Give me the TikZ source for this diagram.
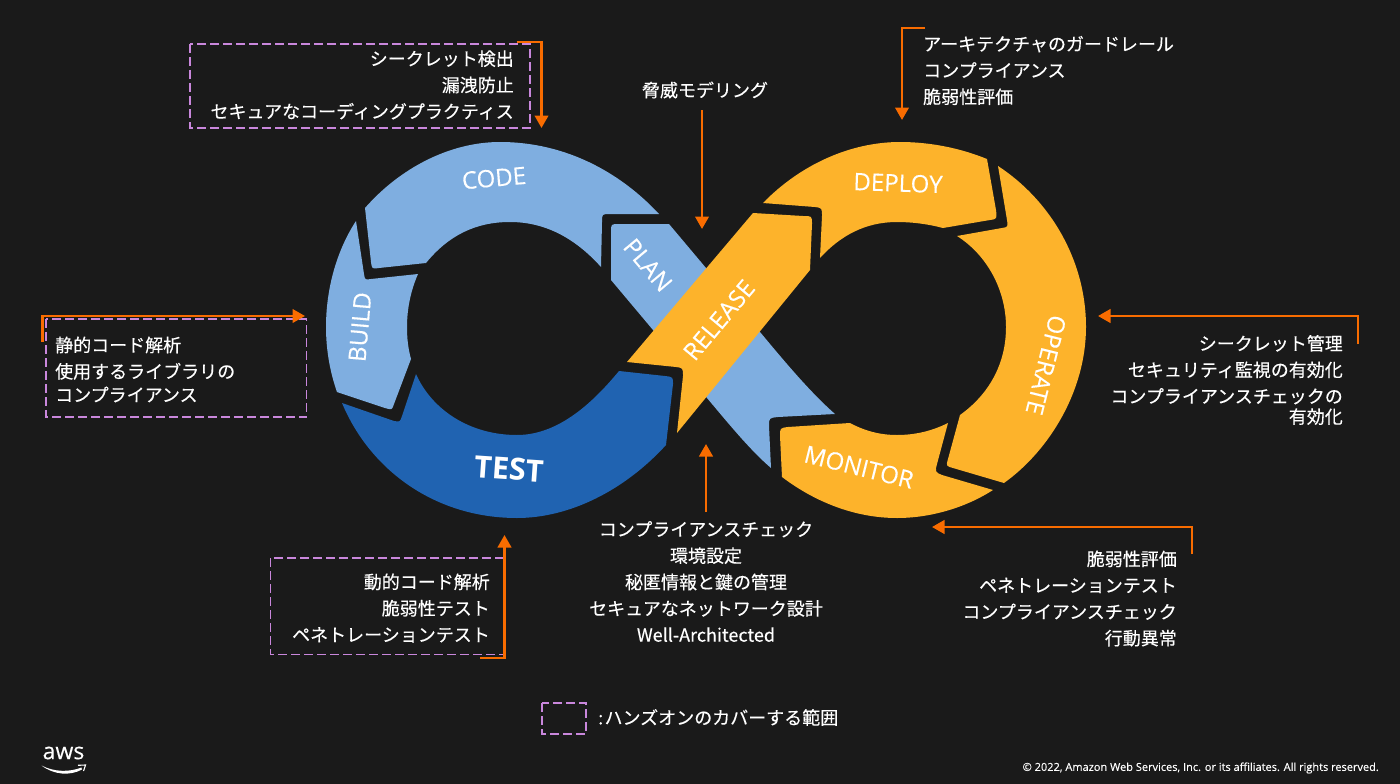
\documentclass[tikz,border=0pt]{standalone}
\usepackage{fontspec}
\setmainfont[FakeBold=0.25]{Noto Sans CJK JP}
\newfontfamily\labelfont[FakeBold=0.2]{Open Sans}
\newfontfamily\testfont{Open Sans}
\usetikzlibrary{arrows.meta}
\definecolor{bgdark}{HTML}{1A1A1A}
\definecolor{bluelight}{HTML}{7FAEE0}
\definecolor{bluedark}{HTML}{2063B1}
\definecolor{amber}{HTML}{FDB32B}
\definecolor{arroworange}{HTML}{F96C00}
\definecolor{dashpurple}{HTML}{C987DC}
\tikzset{
	callout/.style={draw=arroworange, line width=2.5pt, -{Triangle[width=13.5pt,length=12.5pt]}},
	handson/.style={draw=dashpurple, line width=1.7pt, dash pattern=on 9pt off 4pt},
	jptext/.style={text=white, inner sep=0pt, font=\fontsize{18}{26.4}\selectfont},
	phase/.style={text=white, inner sep=0pt, font=\labelfont\fontsize{24}{26}\selectfont},
}

\begin{document}
\begin{tikzpicture}[x=1pt, y=-1pt]
	%%%%% START %%%%%

	\fill[bgdark] (0, 0) rectangle (1400, 784);

	% left loop
	\fill[bluelight] (611, 232) .. controls (611, 224) .. (619, 224) -- (669, 224) -- (706, 268) -- (760, 332) .. controls (785, 362) and (810, 392) .. (835, 414) -- (778, 417) .. controls (769, 418) .. (769, 426) -- (771, 468) .. controls (750, 450) and (728, 423) .. (707, 398) -- (653, 330) -- (611, 280) -- cycle;
	\fill[bluelight] (365, 208) .. controls (400, 168) and (450, 142) .. (500, 142) .. controls (565, 142) and (620, 172) .. (659, 214) -- (610, 214) .. controls (602, 214) .. (602, 222) -- (601, 267) .. controls (575, 238) and (545, 222) .. (510, 222) .. controls (475, 222) and (448, 236) .. (426, 263) -- (379, 268) .. controls (372, 269) .. (371, 262) -- cycle;
	\fill[bluelight] (356, 221) .. controls (337, 250) and (326, 288) .. (326, 327) .. controls (326, 350) and (330, 372) .. (337, 392) -- (385, 408) .. controls (392, 410) .. (394, 404) -- (411, 359) .. controls (408, 348) and (407, 338) .. (407, 327) .. controls (407, 308) and (411, 290) .. (418, 274) -- (371, 279) .. controls (365, 280) .. (364, 274) -- cycle;
	\fill[bluedark] (342, 403) -- (394, 421) .. controls (400, 422) .. (402, 416) -- (416, 374) .. controls (432, 410) and (470, 435) .. (517, 435) .. controls (560, 435) and (595, 400) .. (619, 371) -- (665, 376) .. controls (673, 377) .. (673, 384) -- (666, 445) .. controls (625, 490) and (570, 518) .. (517, 518) .. controls (435, 518) and (370, 470) .. (342, 403) -- cycle;

	% right loop
	\fill[amber] (627, 362) -- (753, 213) -- (803, 216) .. controls (812, 216) .. (812, 224) -- (810, 270) -- (677, 433) -- (683, 376) .. controls (683, 368) .. (676, 367) -- cycle;
	\fill[amber] (763, 203) .. controls (800, 165) and (850, 142) .. (900, 142) .. controls (930, 142) and (960, 148) .. (987, 159) -- (996, 210) .. controls (997, 219) .. (990, 220) -- (943, 228) .. controls (928, 224) and (912, 222) .. (897, 222) .. controls (865, 222) and (840, 236) .. (820, 258) -- (822, 216) .. controls (822, 208) .. (815, 207) -- cycle;
	\fill[amber] (998, 166) .. controls (1050, 200) and (1086, 260) .. (1086, 327) .. controls (1086, 390) and (1050, 450) .. (1004, 483) -- (953, 468) .. controls (946, 466) .. (948, 459) -- (960, 415) .. controls (988, 395) and (1006, 365) .. (1006, 327) .. controls (1006, 290) and (987, 255) .. (957, 236) -- (1002, 228) .. controls (1008, 227) .. (1007, 220) -- cycle;
	\fill[amber] (780, 436) .. controls (780, 428) .. (788, 427) -- (850, 423) .. controls (865, 431) and (880, 435) .. (897, 435) .. controls (915, 435) and (932, 431) .. (948, 423) -- (937, 464) .. controls (935, 472) .. (942, 475) -- (993, 490) .. controls (965, 508) and (930, 518) .. (897, 518) .. controls (855, 518) and (815, 502) .. (782, 477) -- cycle;

	% phase names
	\node[phase, rotate=5] (code) at (494, 178) {CODE};
	\node[phase, rotate=85] (build) at (360, 327) {BUILD};
	\node[phase, rotate=-4, font=\testfont\bfseries\fontsize{30.5}{32}\selectfont] (test) at (509, 469) {TEST};
	\node[phase, rotate=-50] (plan) at (648, 265) {PLAN};
	\node[phase, rotate=50] (release) at (719, 320) {RELEASE};
	\node[phase, rotate=-2] (deploy) at (898, 183) {DEPLOY};
	\node[phase, rotate=-104] (operate) at (1046, 365) {OPERATE};
	\node[phase, rotate=-14] (monitor) at (859, 467) {MONITOR};

	% areas the hands-on covers
	\draw[handson] (190, 44) rectangle (530, 128);
	\draw[handson] (46, 319) rectangle (306.5, 417);
	\draw[handson] (270.5, 558) rectangle (505, 654.5);
	\draw[handson] (542, 703) rectangle (586, 734);

	% texts
	\node[jptext, anchor=east, align=right] (codetext) at (514, 85) {シークレット検出\\漏洩防止\\セキュアなコーディングプラクティス};
	\node[jptext] (plantext) at (705, 90) {脅威モデリング};
	\node[jptext, anchor=west, align=left] (deploytext) at (923, 70.5) {アーキテクチャのガードレール\\コンプライアンス\\脆弱性評価};
	\node[jptext, anchor=east, align=right] (operatetext) at (1343, 380) {シークレット管理\\セキュリティ監視の有効化\\コンプライアンスチェックの\\[-6pt]有効化};
	\node[jptext, anchor=east, align=right] (monitortext) at (1177, 598.5) {脆弱性評価\\ペネトレーションテスト\\コンプライアンスチェック\\行動異常};
	\node[jptext, align=center] (releasetext) at (706, 581.5) {コンプライアンスチェック\\環境設定\\秘匿情報と鍵の管理\\セキュアなネットワーク設計\\Well-Architected};
	\node[jptext, anchor=east, align=right] (testtext) at (490, 608) {動的コード解析\\脆弱性テスト\\ペネトレーションテスト};
	\node[jptext, anchor=west, align=left] (buildtext) at (55, 369.5) {静的コード解析\\使用するライブラリの\\[-3pt]コンプライアンス};
	\node[jptext, anchor=west] (legendtext) at (598, 717.5) {: \kern-4pt ハンズオンのカバーする範囲};
	\node[text=white, inner sep=0pt, anchor=east, font=\labelfont\fontsize{11}{12}\selectfont] (copyright) at (1379, 768) {© 2022, Amazon Web Services, Inc. or its affiliates. All rights reserved.};

	% connectors
	\coordinate (codestart) at (516.5, 42);
	\coordinate (codecorner) at (541.5, 42);
	\coordinate (codeend) at (541.5, 128);
	\draw[callout] (codestart) -- (codecorner) -- (codeend);
	\coordinate (planstart) at (702, 110);
	\coordinate (planend) at (702, 229);
	\draw[callout] (planstart) -- (planend);
	\coordinate (deploystart) at (925, 28);
	\coordinate (deploycorner) at (902, 28);
	\coordinate (deployend) at (902, 120);
	\draw[callout] (deploystart) -- (deploycorner) -- (deployend);
	\coordinate (operatestart) at (1358, 344);
	\coordinate (operatecorner) at (1358, 316);
	\coordinate (operateend) at (1098, 316);
	\draw[callout] (operatestart) -- (operatecorner) -- (operateend);
	\coordinate (monitorstart) at (1192, 554);
	\coordinate (monitorcorner) at (1192, 527);
	\coordinate (monitorend) at (932, 527);
	\draw[callout] (monitorstart) -- (monitorcorner) -- (monitorend);
	\coordinate (releasestart) at (706, 512);
	\coordinate (releaseend) at (706, 444);
	\draw[callout] (releasestart) -- (releaseend);
	\coordinate (teststart) at (480, 658);
	\coordinate (testcorner) at (504.5, 658);
	\coordinate (testend) at (504.5, 535);
	\draw[callout] (teststart) -- (testcorner) -- (testend);
	\coordinate (buildstart) at (42.7, 342);
	\coordinate (buildcorner) at (42.7, 316);
	\coordinate (buildend) at (305, 316);
	\draw[callout] (buildstart) -- (buildcorner) -- (buildend);

	% logo
	\node[text=white, inner sep=0pt, font=\labelfont\fontsize{23}{24}\selectfont] (awslogo) at (63.5, 753) {aws};
	\fill[white] (41.5, 765.5) .. controls (54, 775) and (70, 776) .. (82, 769.5) -- (81.5, 767.5) .. controls (70, 772) and (55, 772.5) .. (41.5, 765.5) -- cycle;
	\draw[white, line width=1.1pt] (78, 765.3) -- (85.5, 765) -- (83.5, 771);

	%%%%% END %%%%%
\end{tikzpicture}
\end{document}
